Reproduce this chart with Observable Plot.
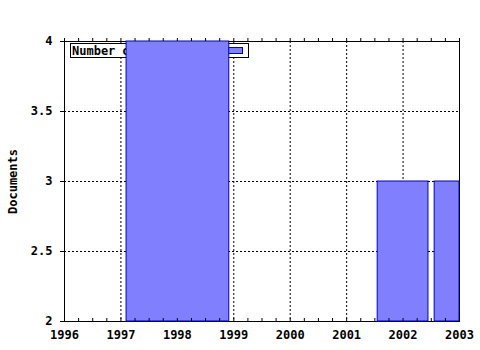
<!DOCTYPE html>
<html><head><meta charset="utf-8">
<script src="https://cdn.jsdelivr.net/npm/d3@7"></script>
<script src="https://cdn.jsdelivr.net/npm/@observablehq/plot@0.6"></script>
<style>body{margin:0;background:#fff} svg{display:block}</style>
</head><body><div id="chart"></div>
<script>
const years = [1998, 2002, 2003];
const documents = [4, 3, 3];
const periodStart = [1997.1, 2001.55, 2002.56];
const periodEnd = [1998.92, 2002.45, 2003.46];
const xTicks = [1996, 1997, 1998, 1999, 2000, 2001, 2002, 2003];
const xMinorTicks = [1996.25, 1996.5, 1996.75, 1997.25, 1997.5, 1997.75, 1998.25, 1998.5, 1998.75,
  1999.25, 1999.5, 1999.75, 2000.25, 2000.5, 2000.75, 2001.25, 2001.5, 2001.75, 2002.25, 2002.5, 2002.75];
const yTicks = [2, 2.5, 3, 3.5, 4];
const seriesName = "Number of documents";
const yLabel = "Documents";

const data = years.map((y, i) => ({year: y, start: periodStart[i], end: periodEnd[i], value: documents[i]}));
const font = "'DejaVu Sans Mono', monospace";
const barFill = "#8080ff";
const barStroke = "#0000c0";

const chart = Plot.plot({
  width: 480, height: 350,
  marginLeft: 64, marginRight: 21, marginTop: 41, marginBottom: 29,
  style: {background: "#fff", fontFamily: font, fontSize: "12px", fontWeight: "bold", color: "#000"},
  x: {domain: [1996, 2003], clamp: true},
  y: {domain: [2, 4], clamp: true},
  marks: [
    Plot.gridX(xTicks, {stroke: "#000", strokeOpacity: 1, strokeDasharray: "2,2"}),
    Plot.gridY(yTicks, {stroke: "#000", strokeOpacity: 1, strokeDasharray: "2,2"}),
    Plot.frame({stroke: "#000"}),
    Plot.rectY(data, {x1: "start", x2: "end", y: "value", fill: barFill, stroke: barStroke, strokeWidth: 1}),
    Plot.tickX(xTicks.concat(xMinorTicks), {x: d => d, insetTop: 277, stroke: "#000"}),
    Plot.tickX(xTicks.concat(xMinorTicks), {x: d => d, insetTop: -3, insetBottom: 280, stroke: "#000"}),
    Plot.axisX(xTicks, {tickSize: 0, tickPadding: 9, tickFormat: d => String(d), label: null}),
    Plot.axisY(yTicks, {tickSize: 4, tickPadding: 8, tickFormat: d => String(d), label: yLabel,
      labelAnchor: "center", labelArrow: "none", labelOffset: 56})
  ]
});
document.getElementById("chart").appendChild(chart);

// legend box, drawn beneath the bars
const barGroup = chart.querySelector('g[aria-label="rect"]');
const legend = d3.create("svg:g").attr("transform", "translate(70.5,43.5)");
legend.append("rect").attr("width", 178).attr("height", 14).attr("fill", "#fff").attr("stroke", "#000");
legend.append("text").attr("x", 1.5).attr("y", 11).attr("text-anchor", "start")
  .attr("font-family", font).attr("font-size", 12)
  .attr("font-weight", "bold").attr("fill", "#000").text(seriesName);
legend.append("rect").attr("x", 158).attr("y", 4).attr("width", 14).attr("height", 6)
  .attr("fill", barFill).attr("stroke", barStroke);
chart.insertBefore(legend.node(), barGroup);
</script>
</body></html>
